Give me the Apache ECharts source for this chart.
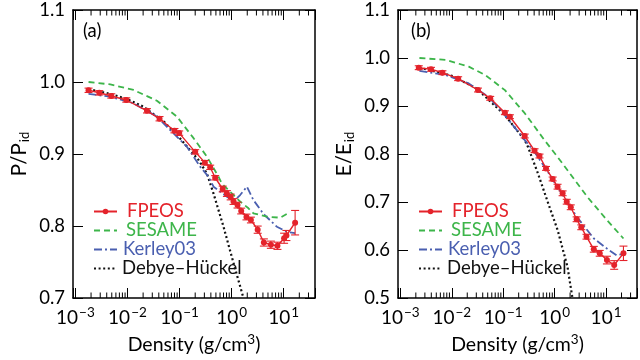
<!DOCTYPE html>
<html><head><meta charset="utf-8">
<script src="https://cdn.jsdelivr.net/npm/echarts@6/dist/echarts.min.js"></script>
<style>html,body{margin:0;padding:0;background:#fff}#c{width:640px;height:360px}</style>
</head><body><div id="c"></div>
<script>
// ---------- data : panel (a) P/Pid ----------
const a_fpeos_density = [0.00179,0.00288,0.0049,0.0095,0.0237,0.0413,0.080,0.0986,0.2,0.307,0.388,0.484,0.675,0.813,0.96,1.09,1.3,1.53,1.93,2.35,3.17,4.17,5.68,7.6,10.2,11.3,16.6];
const a_fpeos_value   = [0.9885,0.985,0.9806,0.975,0.960,0.949,0.9324,0.929,0.903,0.888,0.8815,0.867,0.8514,0.8451,0.8403,0.834,0.829,0.8208,0.8125,0.8083,0.7949,0.7771,0.774,0.7725,0.783,0.7868,0.8046];
const a_fpeos_err     = [0.003,0.003,0.003,0.003,0.003,0.003,0.003,0.003,0.003,0.003,0.003,0.003,0.004,0.004,0.004,0.004,0.004,0.004,0.004,0.004,0.005,0.005,0.005,0.005,0.007,0.007,0.017];
const a_sesame_density = [0.00179,0.00468,0.0131,0.0368,0.0891,0.186,0.336,0.56,0.65,0.94,1.46,2.11,2.63,4.76,8.57,11.5];
const a_sesame_value   = [1.0,0.9967,0.9889,0.974,0.952,0.922,0.8963,0.8685,0.859,0.8476,0.834,0.8246,0.8176,0.813,0.8115,0.8167];
const a_kerley_density = [0.00179,0.00468,0.0131,0.0368,0.0663,0.139,0.249,0.36,0.45,0.813,0.94,1.17,1.46,1.97,2.63,4.1,7.4,9.9,11.5,16.6];
const a_kerley_value   = [0.9836,0.9796,0.9704,0.952,0.9333,0.910,0.8824,0.8685,0.8546,0.8407,0.838,0.836,0.843,0.8546,0.836,0.8167,0.799,0.7944,0.792,0.790];
const a_dh_density = [0.0018,0.005,0.01,0.02,0.05,0.096,0.23,0.336,0.45,0.70,1.01,1.69];
const a_dh_value   = [0.990,0.983,0.976,0.966,0.945,0.924,0.892,0.873,0.845,0.799,0.757,0.700];

// ---------- data : panel (b) E/Eid ----------
const b_fpeos_density = [0.00228,0.00394,0.00658,0.0133,0.0323,0.0559,0.108,0.135,0.262,0.407,0.508,0.68,0.916,1.14,1.43,1.72,2.06,2.68,3.30,4.17,5.78,7.54,10.4,14.4,21.8];
const b_fpeos_value   = [0.9798,0.9765,0.9694,0.9569,0.9333,0.916,0.886,0.8777,0.8375,0.8069,0.7958,0.770,0.748,0.7319,0.7181,0.7006,0.689,0.664,0.6473,0.6277,0.6015,0.5931,0.579,0.5688,0.5931];
const b_fpeos_err     = [0.004,0.004,0.004,0.004,0.004,0.004,0.004,0.004,0.004,0.004,0.004,0.004,0.004,0.005,0.005,0.005,0.005,0.005,0.005,0.005,0.006,0.006,0.008,0.009,0.015];
const b_sesame_density = [0.00235,0.0076,0.0214,0.0448,0.108,0.262,0.634,1.32,4.3,10.4,21.8];
const b_sesame_value   = [1.0,0.996,0.982,0.9646,0.933,0.885,0.829,0.785,0.711,0.6625,0.624];
const b_kerley_density = [0.00235,0.0076,0.0214,0.052,0.1,0.225,0.4,0.7,1.1,1.5,2.7,5.8,10.4,16,21.8];
const b_kerley_value   = [0.973,0.9646,0.947,0.919,0.885,0.838,0.805,0.767,0.733,0.712,0.669,0.624,0.603,0.589,0.592];
const b_dh_density = [0.00235,0.01,0.03,0.108,0.262,0.303,0.472,0.735,1.14,1.78,2.22];
const b_dh_value   = [0.980,0.963,0.937,0.881,0.829,0.815,0.76,0.70,0.642,0.565,0.50];

// ---------- labels / ranges ----------
const seriesNames = ['FPEOS','SESAME','Kerley03','Debye\u2013H\u00fcckel'];
const panelLabels = ['(a)','(b)'];
const yTitles = ['P/P{sub|id}','E/E{sub|id}'];
const yRanges = [[0.7,1.1],[0.5,1.1]];
const xRange = [0.0009, 40];
const xTitle = 'Density (g/cm{sup|3})';

const FONT = 'Lato, "Liberation Sans", sans-serif';
const RED = '#e4232b', GREEN = '#3db54a', BLUE = '#4a5fb0', BLACK = '#111';
const colors = [RED, GREEN, BLUE, BLACK];
const legendPads = [5,4,1,0];

const panels = [
  {fd:a_fpeos_density, fv:a_fpeos_value, fe:a_fpeos_err, sd:a_sesame_density, sv:a_sesame_value, kd:a_kerley_density, kv:a_kerley_value, dd:a_dh_density, dv:a_dh_value},
  {fd:b_fpeos_density, fv:b_fpeos_value, fe:b_fpeos_err, sd:b_sesame_density, sv:b_sesame_value, kd:b_kerley_density, kv:b_kerley_value, dd:b_dh_density, dv:b_dh_value}
];

const minorTicks = [];
for (let e = -4; e <= 1; e++) for (let m = 2; m <= 9; m++) {
  const v = m * Math.pow(10, e);
  if (v > xRange[0] * 1.0001 && v < xRange[1]) minorTicks.push(v);
}

function pairs(xs, ys) { return xs.map((x, i) => [x, ys[i]]); }

const grids = [
  {left: 73, top: 10, width: 242, height: 288},
  {left: 398, top: 10, width: 243, height: 288}
];

const axisLine = {show: true, lineStyle: {color: '#000', width: 1.5}};
const xAxes = [], yAxes = [], series = [], legends = [], graphics = [];

panels.forEach((p, i) => {
  const yMin = yRanges[i][0], yMax = yRanges[i][1];
  xAxes.push({
    type: 'log', logBase: 10, gridIndex: i, position: 'bottom', min: xRange[0], max: xRange[1],
    axisLine, splitLine: {show: false},
    axisTick: {show: true, inside: true, length: 10, lineStyle: {color: '#000', width: 1}},
    axisLabel: {
      margin: 8, color: '#000',
      formatter: v => {
        const l = Math.log10(v), e = Math.round(l);
        if (Math.abs(l - e) > 1e-6) return '';
        return '{b|10}{s|' + (e < 0 ? '\u2212' : '') + Math.abs(e) + '}';
      },
      rich: {
        b: {fontSize: 19, fontFamily: FONT, color: '#000'},
        s: {fontSize: 13.5, fontFamily: FONT, color: '#000', padding: [0, 0, 10, 1]}
      }
    },
    name: xTitle, nameLocation: 'middle', nameGap: 32,
    nameTextStyle: {fontSize: 19.5, fontFamily: FONT, color: '#000',
      rich: {sup: {fontSize: 13.5, fontFamily: FONT, color: '#000', padding: [0, 0, 10, 0]}}}
  });
  xAxes.push({
    type: 'log', logBase: 10, gridIndex: i, position: 'top', min: xRange[0], max: xRange[1],
    axisLine, splitLine: {show: false},
    axisTick: {show: true, inside: true, length: 10, lineStyle: {color: '#000', width: 1}},
    axisLabel: {show: false}
  });
  yAxes.push({
    type: 'value', gridIndex: i, position: 'left', min: yMin, max: yMax, interval: 0.1,
    axisLine, splitLine: {show: false},
    axisTick: {show: true, inside: true, length: 10, lineStyle: {color: '#000', width: 1}},
    axisLabel: {margin: 8, color: '#000', fontSize: 18.5, fontFamily: FONT, formatter: v => v.toFixed(1)},
    name: yTitles[i], nameLocation: 'middle', nameRotate: 90, nameGap: 42,
    nameTextStyle: {fontSize: 20.5, fontFamily: FONT, color: '#000',
      rich: {sub: {fontSize: 13, fontFamily: FONT, color: '#000', padding: [10, 0, 0, 1]}}}
  });
  yAxes.push({
    type: 'value', gridIndex: i, position: 'right', min: yMin, max: yMax, interval: 0.1,
    axisLine, splitLine: {show: false},
    axisTick: {show: true, inside: true, length: 10, lineStyle: {color: '#000', width: 1}},
    axisLabel: {show: false}
  });
  const xi = 2 * i, yi = 2 * i;
  series.push({
    type: 'custom', xAxisIndex: xi, yAxisIndex: yi, silent: true, clip: false, z: 1,
    data: minorTicks.map(v => [v, yMin]), encode: {x: 0, y: 1},
    renderItem: (params, api) => {
      const v = api.value(0);
      const b = api.coord([v, yMin]), t = api.coord([v, yMax]);
      return {type: 'group', children: [
        {type: 'line', shape: {x1: b[0], y1: b[1], x2: b[0], y2: b[1] - 5.5}, style: {stroke: '#000', lineWidth: 1}},
        {type: 'line', shape: {x1: t[0], y1: t[1], x2: t[0], y2: t[1] + 5.5}, style: {stroke: '#000', lineWidth: 1}}
      ]};
    }
  });
  series.push({
    name: seriesNames[3], type: 'line', xAxisIndex: xi, yAxisIndex: yi, data: pairs(p.dd, p.dv),
    showSymbol: false, symbol: 'none', lineStyle: {color: BLACK, width: 2.2, type: [2, 2.6]}, itemStyle: {color: BLACK}, z: 2
  });
  series.push({
    name: seriesNames[2], type: 'line', xAxisIndex: xi, yAxisIndex: yi, data: pairs(p.kd, p.kv),
    showSymbol: false, symbol: 'none', lineStyle: {color: BLUE, width: 1.8, type: [8, 3, 2, 3]}, itemStyle: {color: BLUE}, z: 3
  });
  series.push({
    name: seriesNames[1], type: 'line', xAxisIndex: xi, yAxisIndex: yi, data: pairs(p.sd, p.sv),
    showSymbol: false, symbol: 'none', lineStyle: {color: GREEN, width: 1.8, type: [6, 4]}, itemStyle: {color: GREEN}, z: 4
  });
  series.push({
    name: seriesNames[0], type: 'line', xAxisIndex: xi, yAxisIndex: yi, data: pairs(p.fd, p.fv),
    symbol: 'circle', symbolSize: 6, showSymbol: true,
    lineStyle: {color: RED, width: 1.4}, itemStyle: {color: RED}, z: 6
  });
  series.push({
    type: 'custom', xAxisIndex: xi, yAxisIndex: yi, silent: true, z: 5,
    data: p.fd.map((x, k) => [x, p.fv[k], p.fe[k]]), encode: {x: 0, y: 1},
    renderItem: (params, api) => {
      const x = api.value(0), y = api.value(1), e = api.value(2);
      const t = api.coord([x, y + e]), b = api.coord([x, y - e]);
      const c = 4;
      const st = {stroke: RED, lineWidth: 1.1};
      return {type: 'group', children: [
        {type: 'line', shape: {x1: t[0], y1: t[1], x2: b[0], y2: b[1]}, style: st},
        {type: 'line', shape: {x1: t[0] - c, y1: t[1], x2: t[0] + c, y2: t[1]}, style: st},
        {type: 'line', shape: {x1: b[0] - c, y1: b[1], x2: b[0] + c, y2: b[1]}, style: st}
      ]};
    }
  });
  legends.push({
    orient: 'vertical', left: grids[i].left + 20, top: 202, padding: 0,
    itemWidth: 23, itemHeight: 7, itemGap: 0, selectedMode: false,
    textStyle: {fontFamily: FONT, fontSize: 18.5, lineHeight: 19},
    data: seriesNames.map((n, k) => ({
      name: n,
      itemStyle: k === 0 ? {color: RED} : {opacity: 0},
      textStyle: {color: colors[k], padding: [0, 0, 0, legendPads[k]]}
    }))
  });
  graphics.push({
    type: 'text', left: grids[i].left + 10 + (i === 1 ? 3 : 0), top: 22,
    style: {text: panelLabels[i], font: '18.5px ' + FONT, fill: '#000'}
  });
});

const chart = echarts.init(document.getElementById('c'));
chart.setOption({
  animation: false,
  backgroundColor: '#fff',
  grid: grids,
  xAxis: xAxes,
  yAxis: yAxes,
  legend: legends,
  series: series,
  graphic: graphics
});
</script>
</body></html>
